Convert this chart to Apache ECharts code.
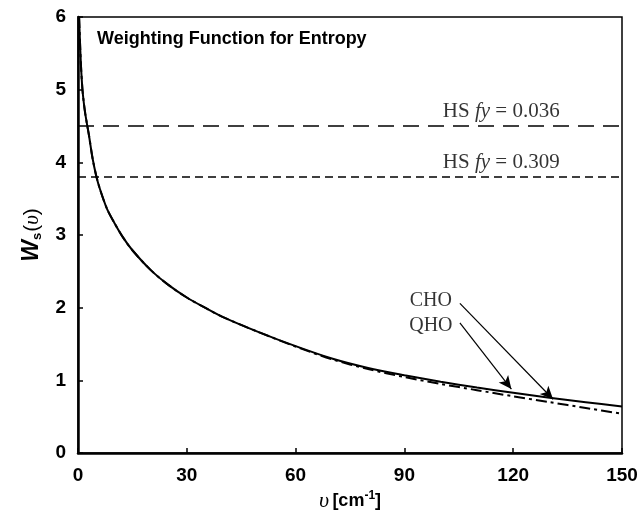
<!DOCTYPE html>
<html>
<head>
<meta charset="utf-8">
<script src="https://cdn.jsdelivr.net/npm/echarts@6/dist/echarts.min.js"></script>
<style>html,body{margin:0;padding:0;background:#fff}#c{width:641px;height:514px}</style>
</head>
<body>
<div id="c"></div>
<script>
// Data
const freq = [0.3, 0.5, 0.8, 1.2, 1.6, 2, 2.5, 3, 4, 5, 6, 8, 10, 12.5, 15, 20, 25, 30, 35, 40, 50, 60, 70, 80, 90, 100, 110, 120, 130, 140, 150];
const solidCurve = [6.0, 5.72, 5.35, 5.02, 4.82, 4.67, 4.52, 4.38, 4.06, 3.82, 3.64, 3.36, 3.17, 2.96, 2.79, 2.52, 2.31, 2.14, 2.0, 1.87, 1.66, 1.47, 1.30, 1.17, 1.07, 0.98, 0.90, 0.83, 0.76, 0.70, 0.64];
const dashDotCurve = [6.0, 5.72, 5.35, 5.02, 4.82, 4.67, 4.52, 4.38, 4.06, 3.82, 3.64, 3.36, 3.17, 2.96, 2.79, 2.52, 2.31, 2.14, 2.0, 1.87, 1.66, 1.465, 1.29, 1.155, 1.045, 0.95, 0.865, 0.78, 0.70, 0.62, 0.54];
const hsLevels = [4.5, 3.8];
const hsLabels = ['0.036', '0.309'];
const xTicks = [0, 30, 60, 90, 120, 150];
const yTicks = [0, 1, 2, 3, 4, 5, 6];
const curveLabels = ['CHO', 'QHO'];
const labelPos = [[97.3, 2.09], [97.3, 1.75]];
const arrowFrom = [[105.3, 2.06], [105.3, 1.79]];
const arrowTo = [[131, 0.74], [119.5, 0.88]];

const chart = echarts.init(document.getElementById('c'), null, {renderer: 'canvas'});
const zip = (a, b) => a.map((v, i) => [v, b[i]]);
const tickFont = {fontFamily: 'Liberation Sans, Arial', fontWeight: 'bold', fontSize: 19, color: '#000'};
const serif = 'Liberation Serif, Times New Roman';

chart.setOption({
  animation: false,
  backgroundColor: '#fff',
  title: {
    text: 'Weighting Function for Entropy',
    left: 92, top: 25,
    textStyle: {fontFamily: 'Liberation Sans, Arial', fontWeight: 'bold', fontSize: 18, color: '#000'}
  },
  grid: {left: 78, right: 19, top: 17, bottom: 61, show: true, borderColor: '#000', borderWidth: 1.5, outerBoundsMode: 'none', containLabel: false},
  xAxis: {
    type: 'value', min: xTicks[0], max: xTicks[xTicks.length - 1], interval: 30,
    axisLine: {show: true, onZero: false, lineStyle: {color: '#000', width: 2.5}},
    axisTick: {show: true, inside: true, length: 5, lineStyle: {color: '#000', width: 1.5}},
    axisLabel: Object.assign({margin: 13}, tickFont),
    splitLine: {show: false},
    name: '{u|υ} {b|[cm}{sup|-1}{b|]}',
    nameLocation: 'middle', nameGap: 35,
    nameTextStyle: {
      rich: {
        u: {fontFamily: serif, fontStyle: 'italic', fontSize: 22, color: '#000'},
        b: {fontFamily: 'Liberation Sans, Arial', fontWeight: 'bold', fontSize: 18, color: '#000'},
        sup: {fontFamily: 'Liberation Sans, Arial', fontWeight: 'bold', fontSize: 12, color: '#000', verticalAlign: 'top', padding: [0, 0, 10, 0]}
      }
    }
  },
  yAxis: {
    type: 'value', min: yTicks[0], max: yTicks[yTicks.length - 1], interval: 1,
    axisLine: {show: true, onZero: false, lineStyle: {color: '#000', width: 2.5}},
    axisTick: {show: true, inside: true, length: 5, lineStyle: {color: '#000', width: 1.5}},
    axisLabel: Object.assign({margin: 12}, tickFont),
    splitLine: {show: false},
    name: '{w|W}{s|s}{p|(}{u|υ}{p|)}',
    nameLocation: 'middle', nameGap: 34,
    nameTextStyle: {
      rich: {
        w: {fontFamily: 'Liberation Sans, Arial', fontWeight: 'bold', fontStyle: 'italic', fontSize: 23, color: '#000'},
        s: {fontFamily: 'Liberation Sans, Arial', fontWeight: 'bold', fontSize: 13, color: '#000', padding: [11, 1, 0, 0]},
        p: {fontFamily: 'Liberation Sans, Arial', fontSize: 21, color: '#000'},
        u: {fontFamily: serif, fontStyle: 'italic', fontSize: 21, color: '#000'}
      }
    }
  },
  series: [
    {
      name: 'solid', type: 'line', data: zip(freq, solidCurve), showSymbol: false, smooth: 0.3,
      lineStyle: {color: '#000', width: 2}, clip: true, z: 3,
      markLine: {
        silent: true, symbol: ['none', 'none'],
        label: {show: false},
        data: hsLevels.map((y, i) => ({yAxis: y, lineStyle: {color: '#000', width: 1.6, type: i === 0 ? [16, 9] : [8, 5]}}))
      }
    },
    {
      name: 'dashdot', type: 'line', data: zip(freq, dashDotCurve), showSymbol: false, smooth: 0.3,
      lineStyle: {color: '#000', width: 2, type: [11, 4, 3, 4]}, clip: true, z: 2,
      markLine: {
        silent: true, symbol: ['none', 'arrow'], symbolSize: [9, 13],
        label: {show: false},
        lineStyle: {color: '#000', width: 1.2, type: 'solid'},
        data: arrowFrom.map((p, i) => [{coord: p}, {coord: arrowTo[i]}])
      }
    },
    {
      name: 'hsText', type: 'scatter', symbolSize: 0, silent: true,
      data: hsLevels.map((y, i) => ({value: [116.7, y], hsVal: hsLabels[i]})),
      label: {
        show: true, position: 'top', distance: 4,
        formatter: p => '{n|HS }{i|fy}{n| = ' + p.data.hsVal + '}',
        rich: {
          n: {fontFamily: serif, fontSize: 21, color: '#000'},
          i: {fontFamily: serif, fontStyle: 'italic', fontSize: 21, color: '#000'}
        }
      }
    },
    {
      name: 'curveText', type: 'scatter', symbolSize: 0, silent: true,
      data: labelPos.map((p, i) => ({value: p, txt: curveLabels[i]})),
      label: {
        show: true, position: 'inside',
        formatter: p => p.data.txt,
        fontFamily: serif, fontSize: 20, color: '#000'
      }
    }
  ]
});
</script>
</body>
</html>
